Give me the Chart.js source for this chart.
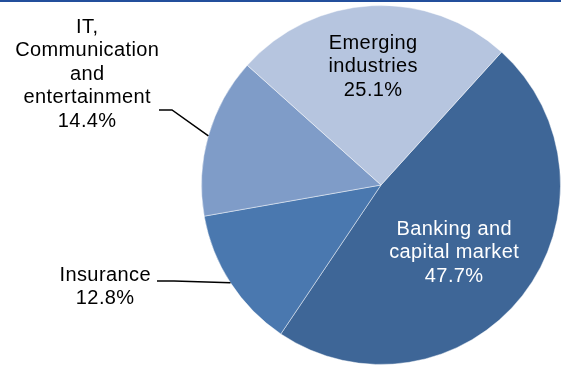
<!DOCTYPE html>
<html>
<head>
<meta charset="utf-8">
<script src="https://cdn.jsdelivr.net/npm/chart.js@4/dist/chart.umd.min.js"></script>
<style>
  html, body { margin: 0; padding: 0; background: #fff; }
  #wrap { position: relative; width: 561px; height: 367px; overflow: hidden; }
  #topRule { position: absolute; left: 0; top: 0; width: 561px; height: 2px; background: #234f9c; }
  #pie { position: absolute; left: 0; top: 0; }
</style>
</head>
<body>
<div id="wrap">
  <canvas id="pie" width="561" height="367"></canvas>
  <div id="topRule"></div>
</div>
<script>
// sector names (already broken into lines) and their shares, in drawing order
const categories = [
    ['Banking and', 'capital market'],
    ['Insurance'],
    ['IT,', 'Communication', 'and', 'entertainment'],
    ['Emerging', 'industries']
];
const shares = [47.7, 12.8, 14.4, 25.1];
const sliceColors = ['#3e6697', '#4a78af', '#7f9cc8', '#b6c5df'];

// where each label sits; leader = start of the line running to the slice edge
const labelStyle = [
    { x: 454, y: 235, color: '#ffffff', leader: null },
    { x: 105, y: 281, color: '#000000', leader: [[157, 281], [174, 281]] },
    { x: 87,  y: 33,  color: '#000000', leader: [[159, 110], [172, 110]] },
    { x: 373, y: 49,  color: '#000000', leader: null }
];
const lineGap = 23.4;

const sliceLabels = {
    id: 'sliceLabels',
    afterDatasetsDraw(chart) {
        const ctx = chart.ctx;
        const arcs = chart.getDatasetMeta(0).data;
        ctx.save();
        ctx.font = '20px "Liberation Sans", Arial, sans-serif';
        ctx.letterSpacing = '0.4px';
        ctx.textAlign = 'center';
        ctx.textBaseline = 'alphabetic';

        arcs.forEach((arc, i) => {
            const st = labelStyle[i];
            const lines = [...categories[i], shares[i].toFixed(1) + '%'];
            ctx.fillStyle = st.color;
            lines.forEach((t, k) => ctx.fillText(t, st.x + 0.2, st.y + k * lineGap));

            if (st.leader) {
                const p = arc.getProps(['x', 'y', 'startAngle', 'endAngle', 'outerRadius'], true);
                const mid = (p.startAngle + p.endAngle) / 2;
                const ex = p.x + Math.cos(mid) * p.outerRadius;
                const ey = p.y + Math.sin(mid) * p.outerRadius;
                ctx.beginPath();
                ctx.moveTo(st.leader[0][0], st.leader[0][1]);
                ctx.lineTo(st.leader[1][0], st.leader[1][1]);
                ctx.lineTo(ex, ey);
                ctx.strokeStyle = '#000';
                ctx.lineWidth = 1.5;
                ctx.stroke();
            }
        });
        ctx.restore();
    }
};

new Chart(document.getElementById('pie').getContext('2d'), {
    type: 'pie',
    data: {
        labels: categories,
        datasets: [{
            data: shares,
            backgroundColor: sliceColors,
            borderColor: 'rgba(255,255,255,0.45)',
            borderWidth: 1
        }]
    },
    options: {
        responsive: false,
        animation: false,
        rotation: 42.2,
        layout: { padding: { left: 201, right: 0, top: 5, bottom: 2 } },
        plugins: {
            legend: { display: false },
            tooltip: { enabled: false }
        }
    },
    plugins: [sliceLabels]
});
</script>
</body>
</html>
